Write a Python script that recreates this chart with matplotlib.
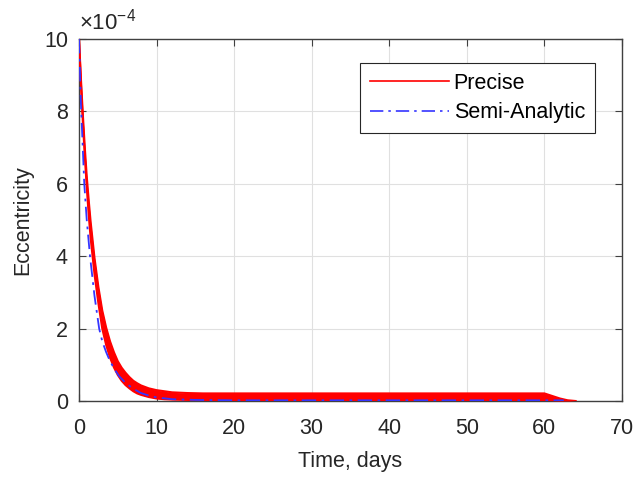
import matplotlib.pyplot as plt
from matplotlib.lines import Line2D

plt.rcParams['font.family'] = ['Liberation Sans', 'DejaVu Sans']
plt.rcParams['mathtext.fontset'] = 'custom'
plt.rcParams['mathtext.rm'] = 'Liberation Sans'
plt.rcParams['mathtext.it'] = 'Liberation Sans'

# Eccentricity values in units of 1e-4
# Precise solution oscillates, so keep its upper and lower envelope
t_precise = [0, 0.25, 0.5, 0.75, 1, 1.25, 1.5, 2, 2.5, 3, 3.5, 4, 4.5, 5, 5.5,
             6, 6.5, 7, 7.5, 8, 9, 10, 11, 12, 14, 16, 20, 30, 40, 50, 60,
             61, 62, 63, 64]
ecc_upper = [10.0, 8.9, 7.9, 7.0, 6.2, 5.55, 4.95, 3.95, 3.15, 2.5, 2.03, 1.65,
             1.35, 1.1, 0.92, 0.78, 0.66, 0.56, 0.49, 0.43, 0.35, 0.30, 0.27,
             0.24, 0.22, 0.21, 0.21, 0.21, 0.21, 0.21, 0.21, 0.14, 0.07, 0.02,
             0.0]
ecc_lower = [10.0, 8.75, 7.7, 6.75, 5.9, 5.15, 4.5, 3.5, 2.7, 2.0, 1.55, 1.2,
             0.93, 0.72, 0.56, 0.44, 0.35, 0.27, 0.21, 0.17, 0.11, 0.07, 0.05,
             0.04, 0.03, 0.02, 0.02, 0.02, 0.02, 0.02, 0.02, 0.01, 0.0, 0.0,
             0.0]

t_semi = [0, 0.25, 0.68, 1.0, 1.42, 2.0, 2.6, 3.0, 3.5, 4.0, 4.6, 5.2, 6, 7, 8,
          9, 10, 12, 15, 20, 30, 40, 50, 60, 62.5]
ecc_semi = [10.0, 8.2, 6.0, 5.0, 4.0, 2.9, 2.0, 1.65, 1.35, 1.1, 0.87, 0.68,
            0.5, 0.34, 0.22, 0.15, 0.1, 0.05, 0.03, 0.02, 0.02, 0.02, 0.02,
            0.02, 0.02]

fig = plt.figure(figsize=(6.34, 4.79), dpi=100)
ax = fig.add_axes([0.1246, 0.1628, 0.8564, 0.7558])

red = '#ff0000'
blue = '#3535ff'
ax.fill_between(t_precise, ecc_lower, ecc_upper, color=red, lw=0, zorder=3)
ax.plot(t_precise, ecc_upper, color=red, lw=1.5, zorder=3)
ax.plot(t_precise, ecc_lower, color=red, lw=1.5, zorder=3)
ax.plot(t_semi, ecc_semi, color=blue, lw=1.3, linestyle=(0, (8, 3, 1.5, 3)),
        zorder=4)

ax.set_xlim(0, 70)
ax.set_ylim(0, 10)
ax.set_xticks(range(0, 71, 10))
ax.set_yticks(range(0, 11, 2))
ax.grid(True, color='#e0e0e0', lw=0.8)
ax.set_axisbelow(True)
ax.tick_params(direction='in', top=True, right=True, length=5,
               colors='#404040', labelcolor='#262626', labelsize=15.5)
ax.tick_params(axis='x', pad=12)
ax.tick_params(axis='y', pad=8)
for s in ax.spines.values():
    s.set_color('#404040')
    s.set_linewidth(1.0)

ax.set_xlabel('Time, days', fontsize=15.5, color='#262626', labelpad=9)
ax.set_ylabel('Eccentricity', fontsize=15.5, color='#262626', labelpad=8)
ax.text(0.0, 1.012, r'$\times10^{-4}$', transform=ax.transAxes, fontsize=16,
        color='#262626', ha='left', va='bottom')

handles = [Line2D([], [], color=red, lw=1.2),
           Line2D([], [], color=blue, lw=1.2, linestyle=(0, (8, 3, 1.5, 3)))]
leg = ax.legend(handles, ['Precise', 'Semi-Analytic'], loc='upper right',
                bbox_to_anchor=(0.950, 0.934), fontsize=15.5, handlelength=3.7,
                fancybox=False, framealpha=1, edgecolor='#262626',
                borderaxespad=0, labelspacing=0.4, handletextpad=0.2,
                borderpad=0.45)
leg.get_frame().set_linewidth(0.8)

fig.savefig('out.png', dpi=100)
